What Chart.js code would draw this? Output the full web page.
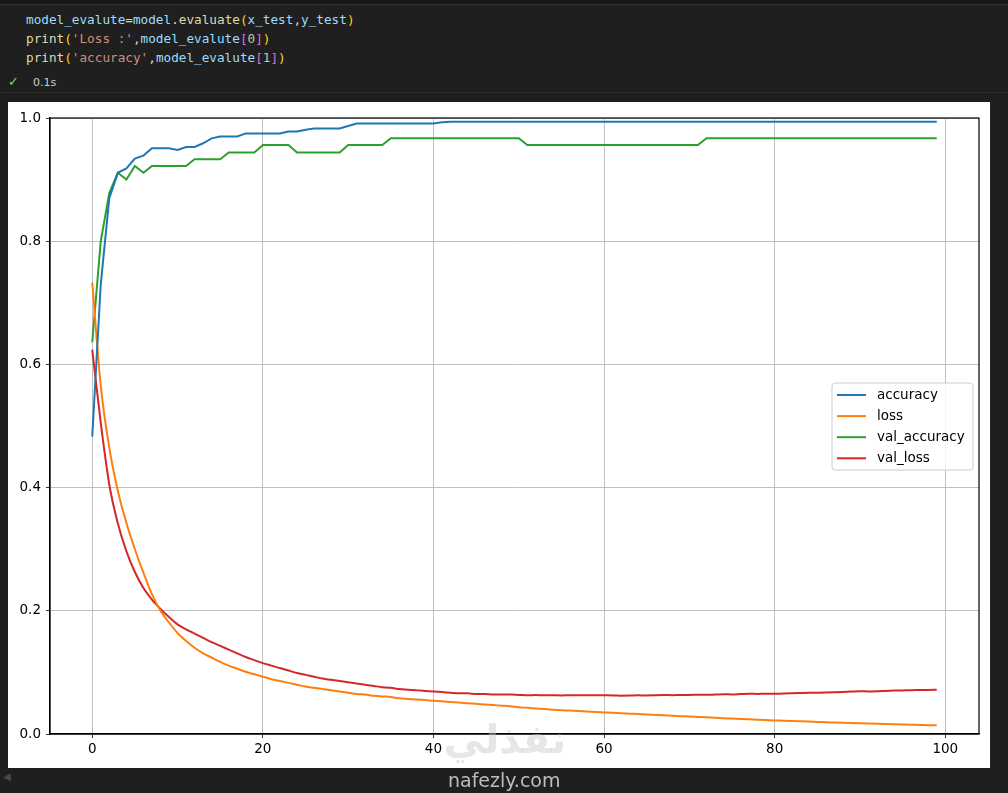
<!DOCTYPE html>
<html>
<head>
<meta charset="utf-8">
<script src="https://cdn.jsdelivr.net/npm/chart.js@4.4.1/dist/chart.umd.min.js"></script>
<style>
  html, body { margin: 0; padding: 0; }
  body { width: 1008px; height: 793px; background: #1f1f1f; overflow: hidden; position: relative; font-family: "DejaVu Sans", sans-serif; }
  .topline { position: absolute; left: 0; top: 0; width: 1008px; height: 4px; background: #181818; border-bottom: 1px solid #303030; }
  pre.code { position: absolute; left: 26px; top: 10px; margin: 0; font-family: "DejaVu Sans Mono", monospace; font-size: 12.7px; line-height: 19px; color: #d4d4d4; }
  .v { color: #9cdcfe; } .f { color: #dcdcaa; } .p { color: #ffd700; } .s { color: #ce9178; } .b { color: #da70d6; } .n { color: #b5cea8; }
  .check { position: absolute; left: 8px; top: 74px; color: #89d185; font-size: 13px; }
  .time { position: absolute; left: 33px; top: 76px; color: #cccccc; font-size: 11px; }
  .sep { position: absolute; left: 0; top: 92px; width: 1008px; height: 1px; background: #2b2b2b; }
  .out { position: absolute; left: 8px; top: 102px; width: 982px; height: 666px; background: #ffffff; }
  .arrow { position: absolute; left: 3px; top: 771px; color: #4a4a4a; font-size: 10px; }
  .wm1 { position: absolute; left: 440px; top: 716px; width: 130px; text-align: center; font-size: 40px; font-weight: bold; color: rgba(200,200,200,0.45); pointer-events: none; }
  .wm2 { position: absolute; left: 448px; top: 769px; font-size: 19px; color: #bdbdbd; pointer-events: none; }
</style>
</head>
<body>
<div class="topline"></div>
<pre class="code"><span class="v">model_evalute</span>=<span class="v">model</span>.<span class="f">evaluate</span><span class="p">(</span><span class="v">x_test</span>,<span class="v">y_test</span><span class="p">)</span>
<span class="f">print</span><span class="p">(</span><span class="s">'Loss :'</span>,<span class="v">model_evalute</span><span class="b">[</span><span class="n">0</span><span class="b">]</span><span class="p">)</span>
<span class="f">print</span><span class="p">(</span><span class="s">'accuracy'</span>,<span class="v">model_evalute</span><span class="b">[</span><span class="n">1</span><span class="b">]</span><span class="p">)</span></pre>
<div class="check">✓</div>
<div class="time">0.1s</div>
<div class="sep"></div>
<div class="out"><canvas id="mainChart" width="982" height="666"></canvas></div>
<div class="arrow">◀</div>
<div class="wm1">نفذلي</div>
<div class="wm2">nafezly.com</div>
<script>
// history values, one row = 10 epochs
const epochs = Array.from({length: 100}, (_, i) => i);

const accuracy = [
    0.483, 0.730, 0.870, 0.911, 0.918, 0.934, 0.939, 0.951, 0.951, 0.951,
    0.948, 0.953, 0.953, 0.959, 0.967, 0.970, 0.970, 0.970, 0.975, 0.975,
    0.975, 0.975, 0.975, 0.978, 0.978, 0.981, 0.983, 0.983, 0.983, 0.983,
    0.987, 0.991, 0.991, 0.991, 0.991, 0.991, 0.991, 0.991, 0.991, 0.991,
    0.991, 0.993, 0.994, 0.994, 0.994, 0.994, 0.994, 0.994, 0.994, 0.994,
    0.994, 0.994, 0.994, 0.994, 0.994, 0.994, 0.994, 0.994, 0.994, 0.994,
    0.994, 0.994, 0.994, 0.994, 0.994, 0.994, 0.994, 0.994, 0.994, 0.994,
    0.994, 0.994, 0.994, 0.994, 0.994, 0.994, 0.994, 0.994, 0.994, 0.994,
    0.994, 0.994, 0.994, 0.994, 0.994, 0.994, 0.994, 0.994, 0.994, 0.994,
    0.994, 0.994, 0.994, 0.994, 0.994, 0.994, 0.994, 0.994, 0.994, 0.994
];

const loss = [
    0.733, 0.565, 0.465, 0.395, 0.343, 0.300, 0.262, 0.227, 0.200, 0.181,
    0.164, 0.151, 0.140, 0.131, 0.124, 0.117, 0.111, 0.106, 0.101, 0.097,
    0.093, 0.089, 0.086, 0.083, 0.080, 0.077, 0.075, 0.073, 0.071, 0.069,
    0.067, 0.065, 0.064, 0.062, 0.061, 0.060, 0.058, 0.057, 0.056, 0.055,
    0.054, 0.053, 0.052, 0.051, 0.050, 0.049, 0.048, 0.047, 0.046, 0.045,
    0.0435, 0.0425, 0.0415, 0.0405, 0.0395, 0.0387, 0.0380, 0.0372, 0.0365, 0.0357,
    0.0350, 0.0343, 0.0337, 0.0330, 0.0323, 0.0317, 0.0310, 0.0303, 0.0297, 0.0290,
    0.0284, 0.0277, 0.0270, 0.0264, 0.0257, 0.0251, 0.0245, 0.0239, 0.0233, 0.0227,
    0.0221, 0.0216, 0.0211, 0.0206, 0.0201, 0.0196, 0.0191, 0.0187, 0.0183, 0.0179,
    0.0175, 0.0171, 0.0167, 0.0163, 0.0159, 0.0155, 0.0151, 0.0148, 0.0144, 0.0141
];

const valAccuracy = [
    0.636, 0.800, 0.878, 0.911, 0.900, 0.922, 0.911, 0.922, 0.922, 0.922,
    0.922, 0.922, 0.933, 0.933, 0.933, 0.933, 0.944, 0.944, 0.944, 0.944,
    0.956, 0.956, 0.956, 0.956, 0.944, 0.944, 0.944, 0.944, 0.944, 0.944,
    0.956, 0.956, 0.956, 0.956, 0.956, 0.967, 0.967, 0.967, 0.967, 0.967,
    0.967, 0.967, 0.967, 0.967, 0.967, 0.967, 0.967, 0.967, 0.967, 0.967,
    0.967, 0.956, 0.956, 0.956, 0.956, 0.956, 0.956, 0.956, 0.956, 0.956,
    0.956, 0.956, 0.956, 0.956, 0.956, 0.956, 0.956, 0.956, 0.956, 0.956,
    0.956, 0.956, 0.967, 0.967, 0.967, 0.967, 0.967, 0.967, 0.967, 0.967,
    0.967, 0.967, 0.967, 0.967, 0.967, 0.967, 0.967, 0.967, 0.967, 0.967,
    0.967, 0.967, 0.967, 0.967, 0.967, 0.967, 0.967, 0.967, 0.967, 0.967
];

const valLoss = [
    0.624, 0.505, 0.405, 0.342, 0.297, 0.263, 0.237, 0.218, 0.203, 0.190,
    0.178, 0.170, 0.163, 0.156, 0.149, 0.143, 0.137, 0.131, 0.125, 0.120,
    0.115, 0.111, 0.107, 0.103, 0.099, 0.096, 0.093, 0.090, 0.088, 0.086,
    0.084, 0.082, 0.080, 0.078, 0.076, 0.075, 0.073, 0.072, 0.071, 0.070,
    0.069, 0.068, 0.067, 0.066, 0.066, 0.065, 0.065, 0.064, 0.064, 0.064,
    0.0635, 0.0630, 0.0632, 0.0628, 0.0630, 0.0627, 0.0629, 0.0631, 0.0628, 0.0630,
    0.0628, 0.0627, 0.0622, 0.0624, 0.0628, 0.0626, 0.0630, 0.0632, 0.0631, 0.0635,
    0.0634, 0.0637, 0.0636, 0.0640, 0.0645, 0.0642, 0.0648, 0.0653, 0.0650, 0.0655,
    0.0652, 0.0658, 0.0662, 0.0665, 0.0668, 0.0670, 0.0673, 0.0677, 0.0682, 0.0688,
    0.0695, 0.0690, 0.0693, 0.0700, 0.0705, 0.0708, 0.0712, 0.0713, 0.0716, 0.0720
];

const seriesNames = ['accuracy', 'loss', 'val_accuracy', 'val_loss'];
const seriesColors = ['#1f77b4', '#ff7f0e', '#2ca02c', '#d62728'];
const xTicks = [0, 20, 40, 60, 80, 100];
const yTicks = [0, 0.2, 0.4, 0.6, 0.8, 1.0];
const yTickLabels = ['0.0', '0.2', '0.4', '0.6', '0.8', '1.0'];

const tickFont = {family: 'DejaVu Sans', size: 13.5};

function toPoints(values) {
    return values.map((v, i) => ({x: epochs[i], y: v}));
}

// top/right spines like matplotlib
const framePlugin = {
    id: 'frame',
    afterDatasetsDraw(chart) {
        const a = chart.chartArea;
        const ctx = chart.ctx;
        ctx.save();
        ctx.strokeStyle = '#000';
        ctx.lineWidth = 1.2;
        ctx.strokeRect(a.left, a.top, a.right - a.left, a.bottom - a.top);
        ctx.restore();
    }
};

// legend box, "center right" inside the axes
const boxLegend = {
    id: 'boxLegend',
    afterDraw(chart) {
        const a = chart.chartArea;
        const ctx = chart.ctx;
        const w = 141, h = 87;
        const x = a.right - 6 - w;
        const y = (a.top + a.bottom) / 2 - h / 2 + 0.5;
        ctx.save();
        ctx.beginPath();
        ctx.roundRect(x, y, w, h, 3);
        ctx.fillStyle = 'rgba(255,255,255,0.8)';
        ctx.fill();
        ctx.strokeStyle = '#cccccc';
        ctx.lineWidth = 1;
        ctx.stroke();
        ctx.font = '13.5px "DejaVu Sans"';
        ctx.textBaseline = 'middle';
        chart.data.datasets.forEach((ds, i) => {
            const ly = y + 12 + i * 21.1;
            ctx.strokeStyle = ds.borderColor;
            ctx.lineWidth = 2;
            ctx.beginPath();
            ctx.moveTo(x + 5, ly);
            ctx.lineTo(x + 34, ly);
            ctx.stroke();
            ctx.fillStyle = '#000';
            ctx.fillText(ds.label, x + 45, ly + 0.5);
        });
        ctx.restore();
    }
};

new Chart(document.getElementById('mainChart'), {
    type: 'line',
    data: {
        datasets: [accuracy, loss, valAccuracy, valLoss].map((vals, i) => ({
            label: seriesNames[i],
            data: toPoints(vals),
            borderColor: seriesColors[i],
            backgroundColor: seriesColors[i],
            borderWidth: 2,
            pointRadius: 0,
            tension: 0,
            // the loss curves are smooth in the original, the accuracy ones step
            cubicInterpolationMode: (i % 2 === 1) ? 'monotone' : 'default',
            fill: false
        }))
    },
    options: {
        responsive: false,
        animation: false,
        events: [],
        layout: {padding: {top: 16, right: 11, left: 0, bottom: 0}, autoPadding: false},
        plugins: {legend: {display: false}, tooltip: {enabled: false}},
        scales: {
            x: {
                type: 'linear',
                min: -4.95,
                max: 103.95,
                afterBuildTicks: s => { s.ticks = xTicks.map(v => ({value: v})); },
                afterFit: s => { s.height = 34; },
                grid: {color: '#b0b0b0', lineWidth: 0.8, tickColor: '#000', tickLength: 4},
                border: {color: '#000', width: 1.2},
                ticks: {font: tickFont, color: '#000', padding: 3, maxRotation: 0, autoSkip: false}
            },
            y: {
                min: 0,
                max: 1,
                afterBuildTicks: s => { s.ticks = yTicks.map(v => ({value: v})); },
                afterFit: s => { s.width = 42; },
                grid: {color: '#b0b0b0', lineWidth: 0.8, tickColor: '#000', tickLength: 4},
                border: {color: '#000', width: 1.2},
                ticks: {
                    font: tickFont, color: '#000', padding: 5, autoSkip: false,
                    callback: (v) => yTickLabels[yTicks.indexOf(v)]
                }
            }
        }
    },
    plugins: [framePlugin, boxLegend]
});
</script>
</body>
</html>
